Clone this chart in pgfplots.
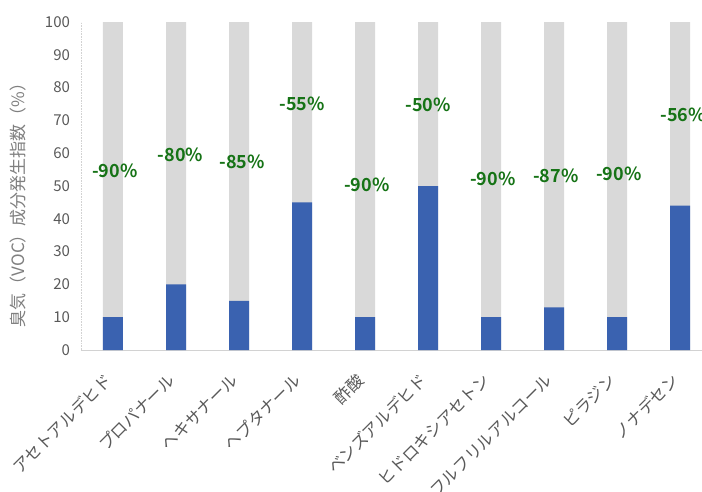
\documentclass[border=0pt]{standalone}
\usepackage{fontspec}
\setmainfont{Noto Sans CJK JP}[BoldFont={Noto Sans CJK JP Bold}]
\usepackage{pgfplots}
\pgfplotsset{compat=1.18}
\definecolor{barblue}{RGB}{58,98,176}
\definecolor{bargray}{RGB}{217,217,217}
\definecolor{lblgreen}{RGB}{22,115,22}
\definecolor{txtgray}{RGB}{89,89,89}
\definecolor{lblgray}{RGB}{127,127,127}
\definecolor{axgray}{RGB}{210,210,210}
\begin{document}
\begin{tikzpicture}
\begin{axis}[
  name=ax, at={(0,0)}, anchor=south west,
  scale only axis, width=630pt, height=328pt,
  xmin=-0.5, xmax=9.5, ymin=0, ymax=100,
  axis x line*=bottom, axis y line*=left,
  x axis line style={axgray, line width=0.8pt},
  y axis line style={axgray, densely dotted, line width=0.6pt},
  xtick={0,...,9},
  xticklabels={アセトアルデヒド,プロパナール,ヘキサナール,ヘプタナール,酢酸,ベンズアルデヒド,ヒドロキシアセトン,フルフリルアルコール,ピラジン,ノナデセン},
  ytick={0,10,...,100},
  major tick length=0pt, tick style={draw=none},
  /pgf/number format/assume math mode=true,
  yticklabel style={font=\fontsize{15}{17}\selectfont, text=txtgray, xshift=-8pt},
  xticklabel style={rotate=45, anchor=east, font=\fontsize{16.5}{18}\selectfont, text=txtgray, yshift=-16pt, xshift=-19pt},
  ylabel={臭気（VOC）成分発生指数（\%）},
  ylabel style={font=\fontsize{17}{19}\selectfont, text=lblgray, at={(axis description cs:-0.101,0.455)}, anchor=center},
]
\addplot[ybar, bar width=20pt, bar shift=0pt, fill=bargray, draw=none] coordinates {
(0,100) (1,100) (2,100) (3,100) (4,100) (5,100) (6,100) (7,100) (8,100) (9,100)};
\addplot[ybar, bar width=20pt, bar shift=0pt, fill=barblue, draw=none] coordinates {
(0,10) (1,20) (2,15) (3,45) (4,10) (5,50) (6,10) (7,13) (8,10) (9,44)};
\addplot[draw=none, mark=none, nodes near coords={\pgfplotspointmeta\%}, point meta=explicit symbolic,
  nodes near coords style={anchor=center, font=\fontsize{18}{20}\selectfont\bfseries, text=lblgreen}]
  table[meta=label] {
x y label
0.03 54.6 -90
1.07 59.5 -80
2.05 57.3 -85
3.0 75.0 -55
4.03 50.3 -90
5.0 74.7 -50
6.03 52.1 -90
7.03 53.0 -87
8.03 53.7 -90
9.05 71.6 -56
};
\end{axis}
\pgfresetboundingbox
\path[use as bounding box] ([xshift=-81.5pt,yshift=-141pt]ax.south west) rectangle ++(702pt,491pt);
\end{tikzpicture}
\end{document}
